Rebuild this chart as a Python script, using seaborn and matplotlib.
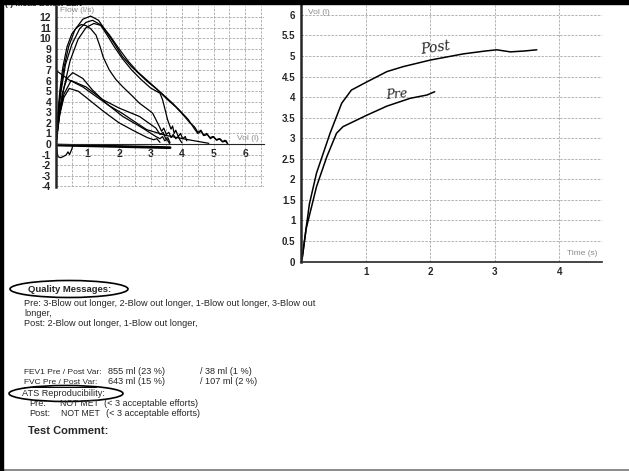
import matplotlib
matplotlib.use('Agg')
import matplotlib.pyplot as plt
import seaborn as sns
import pandas as pd
import numpy as np
from matplotlib.patches import Ellipse, Rectangle
from matplotlib.lines import Line2D
from matplotlib.ticker import MultipleLocator

# flow-volume loops (vol in l, flow in l/s)
b1_vol = [0.0, 0.05, 0.12, 0.25, 0.4, 0.6, 0.85, 1.1, 1.35, 1.6, 1.85, 2.1, 2.4, 2.65, 2.9, 3.15, 3.35, 3.7, 3.95, 4.2, 4.4, 4.5, 4.6, 4.7, 4.8, 4.9, 5.0, 5.1, 5.2, 5.3, 5.4, 5.45]
b1_flow = [0.0, 2.0, 4.5, 7.2, 9.2, 10.8, 11.8, 12.1, 11.7, 10.6, 9.5, 8.3, 7.3, 6.6, 5.9, 5.3, 4.8, 3.85, 3.1, 2.3, 1.4, 1.0, 1.2, 0.8, 0.9, 0.5, 0.7, 0.35, 0.5, 0.2, 0.3, 0.0]

b2_vol = [0.0, 0.06, 0.15, 0.3, 0.5, 0.75, 0.95, 1.16, 1.4, 1.6, 1.85, 2.1, 2.4, 2.7, 3.0, 3.3, 3.38, 3.44, 3.54, 3.65, 3.7, 3.75, 3.8, 3.88, 3.95, 4.02, 4.1, 4.15]
b2_flow = [0.0, 2.2, 4.8, 7.5, 9.4, 10.9, 11.5, 11.7, 11.3, 10.4, 9.2, 8.1, 7.0, 6.1, 5.3, 4.8, 4.2, 3.5, 2.3, 1.4, 1.7, 1.0, 1.3, 0.7, 1.0, 0.5, 0.7, 0.3]

b3_vol = [0.0, 0.1, 0.25, 0.45, 0.7, 0.95, 1.2, 1.45, 1.7, 2.0, 2.3, 2.6, 2.9, 3.2, 3.5, 3.8, 4.05, 4.25, 4.4, 4.5, 4.6, 4.68, 4.78, 4.88, 4.98, 5.08, 5.18, 5.28, 5.36, 5.42]
b3_flow = [0.0, 2.5, 5.3, 7.9, 9.9, 11.0, 11.4, 11.2, 10.3, 9.0, 7.8, 6.8, 6.0, 5.2, 4.3, 3.5, 2.7, 2.0, 1.6, 1.1, 1.3, 0.8, 1.0, 0.6, 0.7, 0.4, 0.5, 0.2, 0.35, 0.1]

b4_vol = [0.0, 0.05, 0.12, 0.22, 0.35, 0.5, 0.65, 0.8, 0.95, 1.1, 1.27, 1.4, 1.5, 1.69, 1.9, 2.12, 2.4, 2.65, 2.9, 3.07, 3.17, 3.28, 3.35, 3.42, 3.5, 3.58, 3.65, 3.72, 3.8, 3.88, 3.95, 4.0]
b4_flow = [0.0, 2.5, 5.0, 7.3, 9.2, 10.4, 11.0, 11.3, 11.2, 10.9, 10.3, 9.2, 8.2, 7.0, 6.1, 5.4, 4.6, 3.85, 3.3, 2.9, 2.3, 1.65, 1.2, 1.5, 0.9, 1.1, 0.6, 0.9, 0.5, 0.7, 0.3, 0.1]

sa_vol = [0.0, 0.03, 0.42, 0.85, 1.27, 1.7, 2.1, 2.5, 2.88, 3.5, 4.2, 4.85]
sa_flow = [3.0, 6.9, 6.05, 5.4, 4.5, 3.6, 2.9, 2.1, 1.35, 0.8, 0.4, 0.06]

sb_vol = [0.0, 0.08, 0.2, 0.35, 0.53, 0.85, 1.16, 1.59, 2.12, 2.75, 3.17, 3.3, 3.38, 3.45, 3.52, 3.6]
sb_flow = [0.0, 2.5, 4.8, 6.2, 6.75, 6.2, 5.1, 3.85, 2.6, 1.5, 0.7, 0.5, 0.7, 0.3, 0.45, 0.05]

sc_vol = [0.0, 0.1, 0.25, 0.48, 0.95, 1.48, 2.0, 2.65, 3.17, 3.3, 3.4, 3.48, 3.55, 3.62]
sc_flow = [0.0, 2.6, 4.7, 6.0, 5.4, 4.2, 3.4, 2.6, 1.5, 0.9, 1.1, 0.5, 0.6, 0.1]

sd_vol = [0.0, 0.12, 0.25, 0.42, 0.7, 1.0, 1.5, 2.0, 2.5, 2.9, 3.1, 3.2, 3.3]
sd_flow = [0.0, 2.8, 4.4, 5.25, 5.0, 4.3, 3.1, 2.0, 1.2, 0.6, 0.4, 0.5, 0.15]

insp_vol = [0.0, 0.03, 0.06, 0.15, 0.29, 0.33, 0.38, 0.43, 0.5, 0.54]
insp_flow = [0.0, -0.6, -1.2, -1.3, -1.1, -1.0, -0.75, -1.0, -0.5, -0.1]

base_vol = [0.0, 3.62]
base_flow = [-0.1, -0.35]

# volume-time curves (time in s, volume in l)
post_time = [0.0, 0.02, 0.07, 0.13, 0.24, 0.45, 0.63, 0.78, 1.02, 1.33, 1.58, 2.0, 2.51, 2.85, 3.03, 3.24, 3.45, 3.65]
post_vol = [0.0, 0.1, 0.7, 1.4, 2.15, 3.12, 3.85, 4.17, 4.37, 4.62, 4.74, 4.9, 5.05, 5.12, 5.15, 5.1, 5.12, 5.15]
pre_time = [0.0, 0.02, 0.08, 0.19, 0.24, 0.4, 0.55, 0.65, 1.02, 1.33, 1.69, 1.95, 2.07]
pre_vol = [0.0, 0.1, 0.8, 1.5, 1.82, 2.55, 3.12, 3.28, 3.56, 3.78, 3.97, 4.05, 4.13]

W, H = 629, 471


def px(x, y):
    return x / W, 1 - y / H


sns.set_style("white")
plt.rcParams['font.family'] = ['Liberation Sans', 'DejaVu Sans']
plt.rcParams['axes.unicode_minus'] = False

fig = plt.figure(figsize=(W / 100, H / 100), dpi=100)

grid_kw = dict(color='#a8a8a8', linewidth=0.6, linestyle=(0, (3, 1.5)))

# ---- flow-volume plot ----
ax1 = fig.add_axes([56 / W, 1 - 187.3 / H, 208 / W, 181.8 / H])
curves = {'b1': (b1_vol, b1_flow), 'b2': (b2_vol, b2_flow), 'b3': (b3_vol, b3_flow),
          'b4': (b4_vol, b4_flow), 'sa': (sa_vol, sa_flow), 'sb': (sb_vol, sb_flow),
          'sc': (sc_vol, sc_flow), 'sd': (sd_vol, sd_flow), 'insp': (insp_vol, insp_flow)}
fv = pd.concat([pd.DataFrame({'vol': v, 'flow': f, 'curve': k}) for k, (v, f) in curves.items()])
sns.lineplot(data=fv, x='vol', y='flow', units='curve', estimator=None, sort=False,
             color='black', linewidth=0.9, legend=False, ax=ax1)
sns.lineplot(x=base_vol, y=base_flow, color='black', linewidth=2.0, ax=ax1)

ax1.set_xlim(0, 6.6)
ax1.set_ylim(-4.1, 13.1)
ax1.set_xticks([1, 2, 3, 4, 5, 6])
ax1.xaxis.set_minor_locator(MultipleLocator(0.5))
ax1.set_yticks(range(-4, 13))
ax1.yaxis.set_minor_locator(MultipleLocator(0.5))
ax1.xaxis.grid(True, which='both', **grid_kw)
ax1.yaxis.grid(True, which='major', **grid_kw)
ax1.set_axisbelow(True)
for s in ['top', 'right']:
    ax1.spines[s].set_visible(False)
ax1.spines['left'].set_linewidth(1.8)
ax1.spines['bottom'].set_position(('data', 0))
ax1.spines['bottom'].set_linewidth(0.8)
ax1.tick_params(axis='both', which='major', direction='out', length=2.5, width=0.8,
                labelsize=7.5, pad=1)
ax1.tick_params(axis='both', which='minor', direction='out', length=1.5, width=0.6)
for lab in ax1.get_xticklabels() + ax1.get_yticklabels():
    lab.set_fontweight('bold')
ax1.set_xlabel('')
ax1.set_ylabel('')
ax1.text(0.13, 12.6, 'Flow (l/s)', fontsize=6, color='#8a8a8a', va='center')
ax1.text(5.75, 0.5, 'Vol (l)', fontsize=6, color='#8a8a8a', va='center')

# ---- volume-time plot ----
ax2 = fig.add_axes([301 / W, 1 - 261.5 / H, 301 / W, 256.5 / H])
vt = pd.concat([pd.DataFrame({'time': post_time, 'vol': post_vol, 'trial': 'post'}),
                pd.DataFrame({'time': pre_time, 'vol': pre_vol, 'trial': 'pre'})])
sns.lineplot(data=vt, x='time', y='vol', units='trial', estimator=None, sort=False,
             color='black', linewidth=1.1, legend=False, ax=ax2)
ax2.set_xlim(0, 4.66)
ax2.set_ylim(0, 6.24)
ax2.set_xticks([1, 2, 3, 4])
ax2.xaxis.set_minor_locator(MultipleLocator(0.25))
ax2.set_yticks(np.arange(0, 6.01, 0.5))
ax2.set_yticklabels(['0', '0.5', '1', '1.5', '2', '2.5', '3', '3.5', '4', '4.5', '5', '5.5', '6'])
ax2.yaxis.set_minor_locator(MultipleLocator(0.1))
ax2.xaxis.grid(True, which='major', **grid_kw)
ax2.yaxis.grid(True, which='major', **grid_kw)
ax2.set_axisbelow(True)
for s in ['top', 'right']:
    ax2.spines[s].set_visible(False)
ax2.spines['left'].set_linewidth(1.8)
ax2.spines['bottom'].set_linewidth(1.2)
ax2.tick_params(axis='both', which='major', direction='out', length=2.5, width=0.8,
                labelsize=7, pad=1.5)
ax2.tick_params(axis='both', which='minor', direction='out', length=1.5, width=0.6)
for lab in ax2.get_xticklabels() + ax2.get_yticklabels():
    lab.set_fontweight('bold')
ax2.set_xlabel('')
ax2.set_ylabel('')
ax2.text(0.11, 6.06, 'Vol (l)', fontsize=6, color='#8a8a8a', va='center')
ax2.text(4.12, 0.2, 'Time (s)', fontsize=6, color='#8a8a8a', va='center')
ax2.text(1.84, 5.2, 'Post', fontsize=10, fontstyle='italic', family='DejaVu Serif',
         va='center', rotation=8)
ax2.text(1.3, 4.07, 'Pre', fontsize=9, fontstyle='italic', family='DejaVu Serif',
         va='center', rotation=5)


# ---- report text ----
def txt(x, y, s, size=6.6, weight='normal'):
    fig.text(*px(x, y), s, fontsize=size, fontweight=weight, va='center', ha='left')


txt(5, 4.0, '( ) Meas Below LLN', size=6, weight='bold')
txt(28, 289, 'Quality Messages:', size=6.8, weight='bold')
txt(24, 303, 'Pre: 3-Blow out longer, 2-Blow out longer, 1-Blow out longer, 3-Blow out')
txt(24, 313, 'longer,')
txt(24, 323, 'Post: 2-Blow out longer, 1-Blow out longer,')
txt(24, 372, 'FEV1 Pre / Post Var:', size=6.0)
txt(108, 372, '855 ml (23 %)')
txt(200, 372, '/ 38 ml (1 %)')
txt(24, 382, 'FVC Pre / Post Var:', size=6.0)
txt(108, 382, '643 ml (15 %)')
txt(200, 382, '/ 107 ml (2 %)')
txt(22, 393, 'ATS Reproducibility:')
txt(29, 403, 'Pre:')
txt(60, 403, 'NOT MET', size=6.2)
txt(104, 403, '(< 3 acceptable efforts)')
txt(29, 413, 'Post:')
txt(61, 413, 'NOT MET', size=6.2)
txt(106, 413, '(< 3 acceptable efforts)')
txt(28, 431, 'Test Comment:', size=8, weight='bold')

fig.add_artist(Line2D([24 / W, 96 / W], [1 - 386.5 / H, 1 - 386.5 / H],
                      transform=fig.transFigure, color='black', linewidth=0.7))
for cx, cy, w, h in [(69, 289, 118, 17), (66, 393.5, 114, 16)]:
    fig.add_artist(Ellipse(px(cx, cy), w / W, h / H, transform=fig.transFigure,
                           fill=False, edgecolor='black', linewidth=1.2))

# page frame
fig.add_artist(Rectangle((0, 1 - 4 / H), 1, 4 / H, transform=fig.transFigure,
                         color='black', zorder=10))
fig.add_artist(Rectangle((0, 0), 3 / W, 1, transform=fig.transFigure,
                         color='black', zorder=10))
fig.add_artist(Line2D([0, 1], [1 - 469.5 / H, 1 - 469.5 / H], transform=fig.transFigure,
                      color='#777777', linewidth=1.2))

fig.savefig('out.png', dpi=100)
